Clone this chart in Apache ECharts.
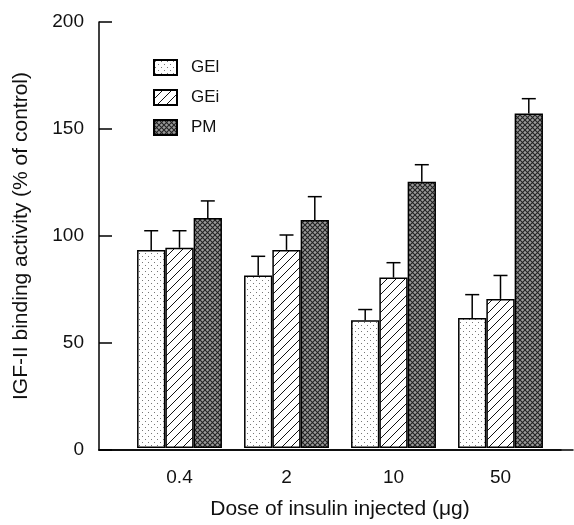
<!DOCTYPE html>
<html lang="en">
<head>
    <meta charset="UTF-8">
    <script src="https://cdn.jsdelivr.net/npm/echarts@6.0.0/dist/echarts.min.js"></script>
    <title>IGF-II binding</title>
    <style>
        body { margin: 0; background: #fff; }
    </style>
</head>
<body>
<div id="chart" style="width: 574px;height:525px;"></div>
<script type="text/javascript">

    // values
    var doses = ['0.4', '2', '10', '50'];
    var gelMean = [93, 81, 60, 61];
    var gelErr = [9, 9, 5, 11];
    var geiMean = [94, 93, 80, 70];
    var geiErr = [8, 7, 7, 11];
    var pmMean = [108, 107, 125, 157];
    var pmErr = [8, 11, 8, 7];
    var yTicks = [0, 50, 100, 150, 200];

    var FONT = '"Liberation Sans", Arial, sans-serif';
    var BAR_W = 28.3;

    // fill patterns
    function makeTile(size, draw) {
        var c = document.createElement('canvas');
        c.width = size;
        c.height = size;
        draw(c.getContext('2d'), size);
        return { image: c, repeat: 'repeat' };
    }
    var dots = makeTile(6, function (ctx, s) {
        ctx.fillStyle = '#fff';
        ctx.fillRect(0, 0, s, s);
        ctx.fillStyle = '#777';
        ctx.fillRect(1, 1, 1, 1);
        ctx.fillRect(4, 4, 1, 1);
    });
    var hatch = makeTile(9, function (ctx, s) {
        ctx.fillStyle = '#fff';
        ctx.fillRect(0, 0, s, s);
        ctx.strokeStyle = '#111';
        ctx.lineWidth = 1;
        ctx.beginPath();
        ctx.moveTo(0, s); ctx.lineTo(s, 0);
        ctx.moveTo(-1, 1); ctx.lineTo(1, -1);
        ctx.moveTo(s - 1, s + 1); ctx.lineTo(s + 1, s - 1);
        ctx.stroke();
    });
    var cross = makeTile(5, function (ctx, s) {
        ctx.fillStyle = '#9a9a9a';
        ctx.fillRect(0, 0, s, s);
        ctx.strokeStyle = '#222';
        ctx.lineWidth = 1.1;
        ctx.beginPath();
        ctx.moveTo(0, 0); ctx.lineTo(s, s);
        ctx.moveTo(0, s); ctx.lineTo(s, 0);
        ctx.stroke();
    });

    function errData(mean, err) {
        var out = [];
        for (var i = 0; i < mean.length; i++) {
            out.push([i, mean[i], mean[i] + err[i]]);
        }
        return out;
    }

    function errSeries(name, mean, err, offset) {
        return {
            name: name + ' err',
            type: 'custom',
            xAxisIndex: 1,
            yAxisIndex: 1,
            z: 1,
            data: errData(mean, err),
            renderItem: function (params, api) {
                var base = api.coord([api.value(0), api.value(1)]);
                var top = api.coord([api.value(0), api.value(2)]);
                var x = base[0] + offset;
                return {
                    type: 'group',
                    children: [
                        { type: 'line', shape: { x1: x, y1: base[1], x2: x, y2: top[1] },
                          style: { stroke: '#000', lineWidth: 1.5 } },
                        { type: 'line', shape: { x1: x - 7, y1: top[1], x2: x + 7, y2: top[1] },
                          style: { stroke: '#000', lineWidth: 1.5 } }
                    ]
                };
            }
        };
    }

    function barSeries(name, mean, fill) {
        return {
            name: name,
            type: 'bar',
            xAxisIndex: 1,
            yAxisIndex: 1,
            z: 2,
            barWidth: BAR_W,
            barGap: '0%',
            data: mean,
            itemStyle: { color: fill, borderColor: '#000', borderWidth: 1.5 }
        };
    }

    var chart = echarts.init(document.getElementById('chart'));
    var option = {
        animation: false,
        textStyle: { fontFamily: FONT, color: '#111' },
        legend: {
            orient: 'vertical',
            left: 153,
            top: 59,
            padding: 0,
            itemWidth: 23,
            itemHeight: 15,
            itemGap: 13,
            icon: 'rect',
            data: ['GEl', 'GEi', 'PM'],
            textStyle: { fontFamily: FONT, fontSize: 17, color: '#111', padding: [0, 0, 0, 9] }
        },
        grid: [
            { left: 99, right: 13, top: 22, bottom: 75 },
            { left: 126, right: 20, top: 22, bottom: 75 },
            { left: 99, right: 1, top: 22, bottom: 75 }
        ],
        xAxis: [
            {
                gridIndex: 0, type: 'value', min: 0, max: 1,
                axisLine: { show: true, lineStyle: { color: '#000', width: 1.5 } },
                axisTick: { show: false }, axisLabel: { show: false }, splitLine: { show: false }
            },
            {
                gridIndex: 1, type: 'category', data: doses,
                axisLine: { show: false }, axisTick: { show: false },
                axisLabel: { fontSize: 19, color: '#111', margin: 20, fontFamily: FONT },
                name: 'Dose of insulin injected (\u03bcg)',
                nameLocation: 'middle',
                nameGap: 51,
                nameTextStyle: { fontSize: 21, color: '#111', fontFamily: FONT }
            },
            {
                gridIndex: 2, type: 'value', min: 0, max: 1, position: 'top',
                axisLine: { show: true, lineStyle: { color: '#000', width: 1.5 } },
                axisTick: { show: false }, axisLabel: { show: false }, splitLine: { show: false }
            }
        ],
        yAxis: [
            {
                gridIndex: 0, type: 'value', min: yTicks[0], max: yTicks[yTicks.length - 1], interval: 50,
                axisLine: { show: true, lineStyle: { color: '#000', width: 1.5 } },
                axisTick: { show: true, inside: true, length: 13, lineStyle: { color: '#000', width: 1.5 } },
                axisLabel: { fontSize: 19, color: '#111', margin: 15, fontFamily: FONT },
                splitLine: { show: false },
                name: 'IGF-II binding activity (% of control)',
                nameLocation: 'middle',
                nameRotate: 90,
                nameGap: 67,
                nameTextStyle: { fontSize: 21, color: '#111', fontFamily: FONT }
            },
            { gridIndex: 1, type: 'value', min: 0, max: 200, show: false },
            { gridIndex: 2, type: 'value', min: 0, max: 200, show: false }
        ],
        series: [
            errSeries('GEl', gelMean, gelErr, -BAR_W),
            errSeries('GEi', geiMean, geiErr, 0),
            errSeries('PM', pmMean, pmErr, BAR_W),
            barSeries('GEl', gelMean, dots),
            barSeries('GEi', geiMean, hatch),
            barSeries('PM', pmMean, cross)
        ]
    };
    chart.setOption(option);
</script>
</body>
</html>
